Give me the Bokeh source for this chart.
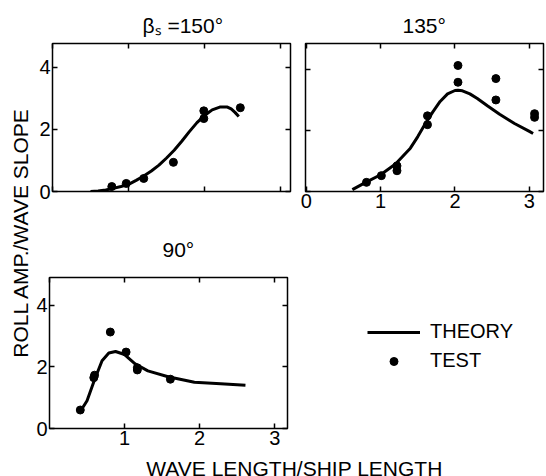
import numpy as np
from bokeh.plotting import figure
from bokeh.layouts import row, column
from bokeh.models import Range1d, LinearAxis, FixedTicker, Label, Legend, LegendItem
from bokeh.embed import file_html
from bokeh.resources import INLINE
from bokeh.core.validation import silence
from bokeh.core.validation.warnings import MISSING_RENDERERS

silence(MISSING_RENDERERS, True)

FONT = "Liberation Sans"

# ---------------- data ----------------
# beta_s = 150 deg
test150_x = [0.78, 0.97, 1.20, 1.59, 1.99, 1.99, 2.47]
test150_y = [0.16, 0.26, 0.42, 0.94, 2.60, 2.35, 2.70]
theory150_x = [0.50, 0.60, 0.70, 0.80, 0.90, 1.00, 1.10, 1.20, 1.30, 1.40, 1.50, 1.60,
               1.70, 1.80, 1.90, 2.00, 2.10, 2.20, 2.30, 2.35, 2.40, 2.45]
theory150_y = [0.00, 0.02, 0.05, 0.10, 0.16, 0.23, 0.36, 0.50, 0.66, 0.85, 1.08, 1.33,
               1.62, 1.93, 2.22, 2.45, 2.63, 2.72, 2.72, 2.66, 2.55, 2.42]

# 135 deg
test135_x = [0.81, 1.01, 1.22, 1.22, 1.63, 1.63, 2.04, 2.04, 2.55, 2.55, 3.07, 3.07]
test135_y = [0.30, 0.52, 0.84, 0.68, 2.48, 2.19, 4.13, 3.58, 3.70, 3.00, 2.55, 2.43]
theory135_x = [0.62, 0.80, 1.00, 1.20, 1.40, 1.50, 1.60, 1.70, 1.80, 1.90, 2.00, 2.04,
               2.10, 2.20, 2.30, 2.44, 2.60, 2.80, 3.00, 3.05]
theory135_y = [0.06, 0.30, 0.55, 0.90, 1.42, 1.80, 2.22, 2.60, 2.95, 3.20, 3.31, 3.32,
               3.30, 3.20, 3.05, 2.80, 2.53, 2.23, 1.97, 1.90]

# 90 deg
test90_x = [0.41, 0.60, 0.59, 0.81, 1.02, 1.17, 1.17, 1.61]
test90_y = [0.60, 1.73, 1.65, 3.13, 2.48, 1.97, 1.90, 1.60]
theory90_x = [0.41, 0.50, 0.60, 0.70, 0.79, 0.88, 1.00, 1.14, 1.31, 1.58, 1.93, 2.28, 2.61]
theory90_y = [0.55, 0.90, 1.58, 2.20, 2.45, 2.50, 2.40, 2.10, 1.87, 1.68, 1.50, 1.45, 1.40]

x_ticks = [0, 1, 2, 3]
y_ticks = [0, 2, 4]

TITLE_150 = "βₛ =150°"
TITLE_135 = "135°"
TITLE_90 = "90°"
X_TITLE = "WAVE LENGTH/SHIP LENGTH"
Y_TITLE = "ROLL AMP./WAVE SLOPE"
LEGEND_LABELS = ["THEORY", "TEST"]


def make_panel(w, h, bl, br, bt, bb, xr, yr):
    p = figure(width=w, height=h, x_range=Range1d(*xr), y_range=Range1d(*yr),
               output_backend="svg", toolbar_location=None,
               x_axis_location=None, y_axis_location=None,
               min_border_left=bl, min_border_right=br,
               min_border_top=bt, min_border_bottom=bb)
    p.grid.visible = False
    p.outline_line_color = "black"
    p.outline_line_width = 1.5
    p.background_fill_color = "white"
    p.border_fill_color = "white"
    return p


def blank(w, h):
    p = figure(width=w, height=h, x_range=Range1d(0, w), y_range=Range1d(0, h),
               min_border=0, toolbar_location=None, output_backend="svg",
               x_axis_location=None, y_axis_location=None, title_location=None)
    p.grid.visible = False
    p.outline_line_color = None
    p.border_fill_color = "white"
    p.background_fill_color = "white"
    return p


def set_title(p, text, offset, standoff):
    p.title.text = text
    p.title.align = "left"
    p.title.offset = offset
    p.title.standoff = standoff
    p.title.text_font = FONT
    p.title.text_font_size = "21px"
    p.title.text_font_style = "normal"
    p.title.text_color = "black"


def add_axis(p, side, ticks, show_labels):
    ax = LinearAxis(ticker=FixedTicker(ticks=ticks))
    ax.axis_line_color = None
    ax.major_tick_in = 5
    ax.major_tick_out = 0
    ax.major_tick_line_color = "black"
    ax.major_tick_line_width = 1.5
    ax.minor_tick_line_color = None
    if show_labels:
        ax.major_label_text_font = FONT
        ax.major_label_text_font_size = "20px"
        ax.major_label_text_color = "black"
        ax.major_label_standoff = 2
    else:
        ax.major_label_text_font_size = "0px"
        ax.major_label_text_color = None
        ax.major_label_standoff = 0
    p.add_layout(ax, side)


YW = 33     # strip for the shared y title
TOPH = 218  # height of the upper row
P3W = 270
P3TOP = 276 - TOPH
P3H = P3TOP + 152 + 28
XH = 476 - TOPH - P3H

# ---------------- panel 1 : 150 deg ----------------
p1 = make_panel(546 - YW - 249, TOPH, 52 - YW, 7, 43, TOPH - 191, (0, 3.13), (0, 4.77))
add_axis(p1, "left", y_ticks, True)
add_axis(p1, "below", x_ticks, False)
add_axis(p1, "above", x_ticks, False)
add_axis(p1, "right", y_ticks, False)
p1.line(theory150_x, theory150_y, line_color="black", line_width=3)
p1.scatter(test150_x, test150_y, size=8, color="black")
set_title(p1, TITLE_150, 90, 13)

# ---------------- panel 2 : 135 deg ----------------
p2 = make_panel(249, TOPH, 8, 3, 43, TOPH - 192, (-0.01, 3.19), (0, 4.85))
add_axis(p2, "left", y_ticks, False)
add_axis(p2, "below", x_ticks, True)
add_axis(p2, "above", x_ticks, False)
add_axis(p2, "right", y_ticks, False)
p2.line(theory135_x, theory135_y, line_color="black", line_width=3)
p2.scatter(test135_x, test135_y, size=8, color="black")
set_title(p2, TITLE_135, 97, 14)

# ---------------- panel 3 : 90 deg ----------------
p3 = make_panel(P3W, P3H, 47 - YW, P3W - (47 - YW) - 240, P3TOP, P3H - 152 - P3TOP,
                (0, 3.17), (0, 4.9))
add_axis(p3, "left", y_ticks, True)
add_axis(p3, "below", [1, 2, 3], True)
add_axis(p3, "above", x_ticks, False)
add_axis(p3, "right", y_ticks, False)
p3.line(theory90_x, theory90_y, line_color="black", line_width=3)
p3.scatter(test90_x, test90_y, size=8, color="black")
set_title(p3, TITLE_90, 113, 34)

# ---------------- legend box ----------------
legfig = blank(546 - YW - P3W, P3H)
lr = legfig.line(theory90_x, theory90_y, line_color="black", line_width=3, visible=False)
sr = legfig.scatter(test90_x, test90_y, size=6, color="black", visible=False)
legend = Legend(items=[LegendItem(label=LEGEND_LABELS[0], renderers=[lr]),
                       LegendItem(label=LEGEND_LABELS[1], renderers=[sr])],
                location=(367 - (YW + P3W), 56), orientation="vertical")
legend.glyph_width = 53
legend.glyph_height = 20
legend.label_height = 20
legend.label_standoff = 10
legend.spacing = 6
legend.padding = 0
legend.margin = 0
legend.border_line_color = None
legend.background_fill_alpha = 0
legend.label_text_font = FONT
legend.label_text_font_size = "20px"
legend.label_text_color = "black"
legfig.add_layout(legend)

# ---------------- x title strip ----------------
xfig = blank(546 - YW, XH)
xfig.add_layout(Label(x=294 - YW, y=XH, text=X_TITLE, text_align="center",
                      text_baseline="top", text_color="black",
                      text_font=FONT, text_font_size="21px"))

# ---------------- y title strip ----------------
yfig = blank(YW, 476)
yfig.add_layout(Label(x=20, y=476 - 232, text=Y_TITLE, angle=np.pi / 2,
                      text_align="center", text_baseline="middle", text_color="black",
                      text_font=FONT, text_font_size="21px"))

layout = row(yfig, column(row(p1, p2), row(p3, legfig), xfig))

with open("out.html", "w") as f:
    f.write(file_html(layout, INLINE))
